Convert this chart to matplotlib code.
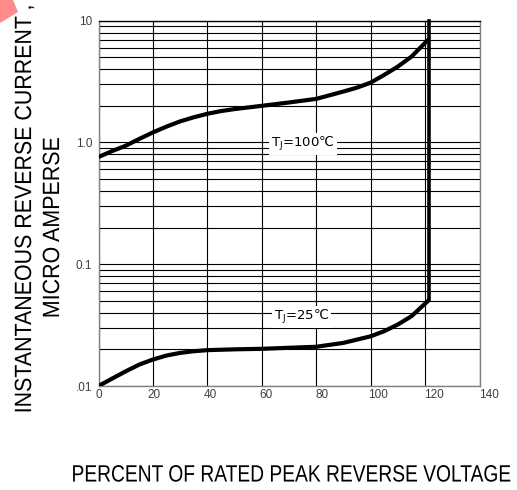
import matplotlib
matplotlib.use("Agg")
import matplotlib.pyplot as plt
from matplotlib.patheffects import AbstractPathEffect
from matplotlib.transforms import Affine2D, ScaledTranslation
from matplotlib.patches import Polygon

# ---- data ----
x_100 = [0, 5, 10, 15, 20, 25, 30, 35, 40, 45, 50, 60, 70, 80, 90, 95, 100, 105, 110, 115, 121.5]
i_100 = [0.76, 0.85, 0.94, 1.07, 1.21, 1.35, 1.49, 1.61, 1.72, 1.81, 1.88, 2.0, 2.13, 2.28,
         2.62, 2.82, 3.1, 3.59, 4.2, 5.07, 7.1]
x_25 = [0, 5, 10, 15, 20, 25, 30, 35, 40, 50, 60, 70, 80, 90, 100, 105, 110, 115, 121.5]
i_25 = [0.0100, 0.0115, 0.0132, 0.0150, 0.0165, 0.0178, 0.0187, 0.0193, 0.0197, 0.0200,
        0.0202, 0.0206, 0.0210, 0.0226, 0.0256, 0.0282, 0.0320, 0.0374, 0.0510]
breakdown_x = 121.5
breakdown_i = [0.051, 10]
x_ticks = [0, 20, 40, 60, 80, 100, 120, 140]
y_ticks = [0.01, 0.1, 1.0, 10]
y_ticklabels = [".01", "0.1", "1.0", "10"]
label_100 = r"T$_\mathregular{J}$=100℃"
label_25 = r"T$_\mathregular{J}$=25℃"
xlabel = "PERCENT OF RATED PEAK REVERSE VOLTAGE"
ylabel1 = "INSTANTANEOUS REVERSE CURRENT ,"
ylabel2 = "MICRO AMPERSE"

W, H = 517, 490
plt.rcParams['font.family'] = ['Liberation Sans', 'DejaVu Sans']
plt.rcParams['mathtext.fontset'] = 'custom'
plt.rcParams['mathtext.rm'] = 'DejaVu Sans'

fig = plt.figure(figsize=(W / 100, H / 100), dpi=100)
ax = fig.add_axes([98.5 / W, 1 - 386 / H, (479.5 - 98.5) / W, (386 - 20.7) / H])

ax.set_yscale('log')
ax.set_xlim(0, 140)
ax.set_ylim(0.01, 10)

ax.grid(True, which='major', axis='both', color='black', lw=0.8)
ax.grid(True, which='minor', axis='y', color='black', lw=0.8)
ax.set_axisbelow(True)

ax.plot(x_100, i_100, color='black', lw=3.0, solid_capstyle='butt', solid_joinstyle='round', zorder=4)
ax.plot(x_25, i_25, color='black', lw=3.0, solid_capstyle='butt', solid_joinstyle='round', zorder=4)
ax.plot([breakdown_x, breakdown_x], breakdown_i, color='black', lw=2.6, zorder=4, clip_on=False)

ax.set_xticks(x_ticks)
ax.set_xticklabels([str(v) for v in x_ticks])
ax.set_yticks(y_ticks)
ax.set_yticklabels(y_ticklabels)
ax.yaxis.set_minor_formatter(plt.NullFormatter())
ax.tick_params(which='both', length=0, labelsize=8.5, labelcolor='#404040')
ax.tick_params(axis='x', pad=2)
ax.tick_params(axis='y', pad=4.5)
for v, lab in zip(x_ticks, ax.get_xticklabels()):
    lab.set_transform(lab.get_transform() + ScaledTranslation(v / 20 * 1.4 / 100, 0, fig.dpi_scale_trans))

for s in ax.spines.values():
    s.set_color('#808080')
    s.set_linewidth(1.0)
ax.spines['top'].set_color('black')

bbox = dict(facecolor='white', edgecolor='none', pad=1.5)
ax.text(75, 0.97, label_100, fontsize=9.5, family='DejaVu Sans', ha='center', va='center',
        bbox=bbox, zorder=3)
ax.text(74.5, 0.037, label_25, fontsize=9.5, family='DejaVu Sans', ha='center', va='center',
        bbox=bbox, zorder=3)


class Stretch(AbstractPathEffect):
    def __init__(self, sx=1.0, sy=1.0, center=(0, 0)):
        super().__init__()
        self.sx, self.sy, self.center = sx, sy, center

    def draw_path(self, renderer, gc, tpath, affine, rgbFace=None):
        cx, cy = self.center
        a = affine + Affine2D().translate(-cx, -cy).scale(self.sx, self.sy).translate(cx, cy)
        renderer.draw_path(gc, tpath, a, rgbFace)


fs = 17  # size that gives the reference's letter height
tx = fig.text(292 / W, 1 - 476 / H, xlabel, fontsize=fs, ha='center', va='center')
ty1 = fig.text(25 / W, 1 - 209 / H, ylabel1, fontsize=fs, ha='center', va='center', rotation=90)
ty2 = fig.text(53 / W, 1 - 228 / H, ylabel2, fontsize=fs, ha='center', va='center', rotation=90)

fig.canvas.draw()
r = fig.canvas.get_renderer()
# shrink font so the run length matches, then stretch letters back to full height
f = fs * 439 / tx.get_window_extent(r).width
tx.set_fontsize(f)
tx.set_path_effects([Stretch(sy=fs / f, center=(292, H - 476))])
f = fs * 408 / ty1.get_window_extent(r).height
ty1.set_fontsize(f)
ty1.set_path_effects([Stretch(sx=fs / f, center=(25, H - 209))])
f = fs * 181 / ty2.get_window_extent(r).height
ty2.set_fontsize(f)
ty2.set_path_effects([Stretch(sx=fs / f, center=(53, H - 228))])

fig.patches.append(Polygon([(0, 1), (13 / W, 1), (18 / W, 1 - 12 / H), (0, 1 - 23 / H)],
                           closed=True, transform=fig.transFigure, facecolor='#ff8a8a',
                           edgecolor='none'))

fig.savefig('out.png', dpi=100)
